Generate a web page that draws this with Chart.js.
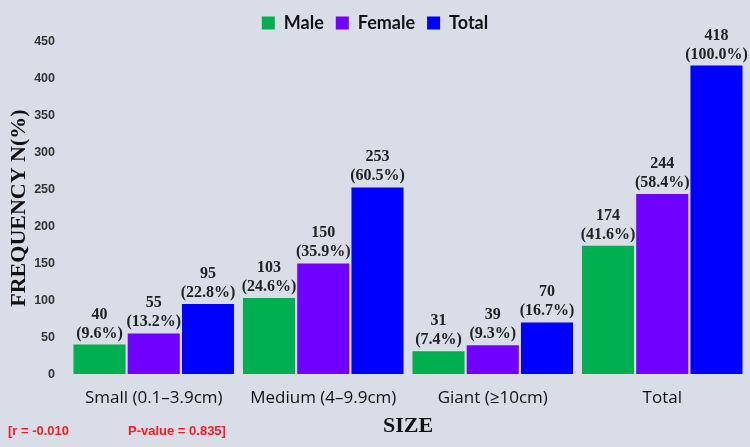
<!DOCTYPE html>
<html><head><meta charset="utf-8">
<script src="https://cdn.jsdelivr.net/npm/chart.js@4.4.1/dist/chart.umd.min.js"></script>
<style>html,body{margin:0;padding:0;background:#d8dde7;}#wrap{width:750px;height:447px;}</style>
</head><body><div id="wrap"><canvas id="c" width="750" height="447"></canvas></div>
<script>
const categories = ["Small (0.1\u20133.9cm)", "Medium (4\u20139.9cm)", "Giant (\u226510cm)", "Total"];
const maleValues = [40, 103, 31, 174];
const femaleValues = [55, 150, 39, 244];
const totalValues = [95, 253, 70, 418];
const malePct = ["9.6%", "24.6%", "7.4%", "41.6%"];
const femalePct = ["13.2%", "35.9%", "9.3%", "58.4%"];
const totalPct = ["22.8%", "60.5%", "16.7%", "100.0%"];
const yTicks = [0, 50, 100, 150, 200, 250, 300, 350, 400, 450];
const pctSets = [malePct, femalePct, totalPct];

const labelPlugin = {
  id: 'barLabels',
  afterDatasetsDraw(chart) {
    const ctx = chart.ctx;
    ctx.save();
    ctx.font = 'bold 16px "Liberation Serif", "DejaVu Serif", serif';
    ctx.fillStyle = '#222222';
    ctx.textAlign = 'center';
    ctx.textBaseline = 'alphabetic';
    chart.data.datasets.forEach((ds, di) => {
      const meta = chart.getDatasetMeta(di);
      meta.data.forEach((bar, i) => {
        ctx.fillText(String(ds.data[i]), bar.x, bar.y - 26);
        ctx.fillText('(' + pctSets[di][i] + ')', bar.x, bar.y - 7);
      });
    });
    ctx.font = 'bold 13px "Liberation Sans", Arial, sans-serif';
    ctx.fillStyle = '#ff1a1a';
    ctx.textAlign = 'left';
    ctx.fillText('[r = -0.010', 8, 435);
    ctx.fillText('P-value = 0.835]', 128, 435);
    ctx.restore();
  }
};

new Chart(document.getElementById('c'), {
  type: 'bar',
  data: {
    labels: categories,
    datasets: [
      {label: 'Male', data: maleValues, backgroundColor: '#00b050', borderColor: '#00b050'},
      {label: 'Female', data: femaleValues, backgroundColor: '#7000ff', borderColor: '#7000ff'},
      {label: 'Total', data: totalValues, backgroundColor: '#0000ff', borderColor: '#0000ff'}
    ]
  },
  options: {
    responsive: false,
    animation: false,
    devicePixelRatio: 1,
    layout: {padding: {left: 3, right: 3, top: 2, bottom: 17}},
    datasets: {bar: {categoryPercentage: 0.96, barPercentage: 0.96}},
    plugins: {
      legend: {
        position: 'top',
        labels: {
          boxWidth: 13, boxHeight: 13, padding: 12,
          color: '#111111',
          font: {family: 'Lato, "Open Sans", sans-serif', size: 18, weight: 'bold'}
        }
      },
      tooltip: {enabled: false}
    },
    scales: {
      x: {
        grid: {display: false, drawTicks: false},
        border: {display: false},
        ticks: {color: '#111111', padding: 15.5, font: {family: '"Open Sans", sans-serif', size: 17, lineHeight: 1.0}},
        title: {display: true, text: 'SIZE', color: '#111111', padding: {top: 0, bottom: 0},
          font: {family: '"Liberation Serif", serif', size: 22, weight: 'bold', lineHeight: 0.36}}
      },
      y: {
        min: 0, max: 450,
        afterBuildTicks(axis) { axis.ticks = yTicks.map(v => ({value: v})); },
        afterFit(scale) { scale.width = 66; },
        grid: {display: false, drawTicks: false},
        border: {display: false},
        ticks: {color: '#333333', padding: 14, font: {family: '"Liberation Sans", sans-serif', size: 12.5, weight: 'bold'}},
        title: {display: true, text: 'FREQUENCY N(%)', color: '#111111', padding: {top: 3, bottom: 0},
          font: {family: '"Liberation Serif", serif', size: 22, weight: 'bold'}}
      }
    }
  },
  plugins: [labelPlugin]
});
</script></body></html>
